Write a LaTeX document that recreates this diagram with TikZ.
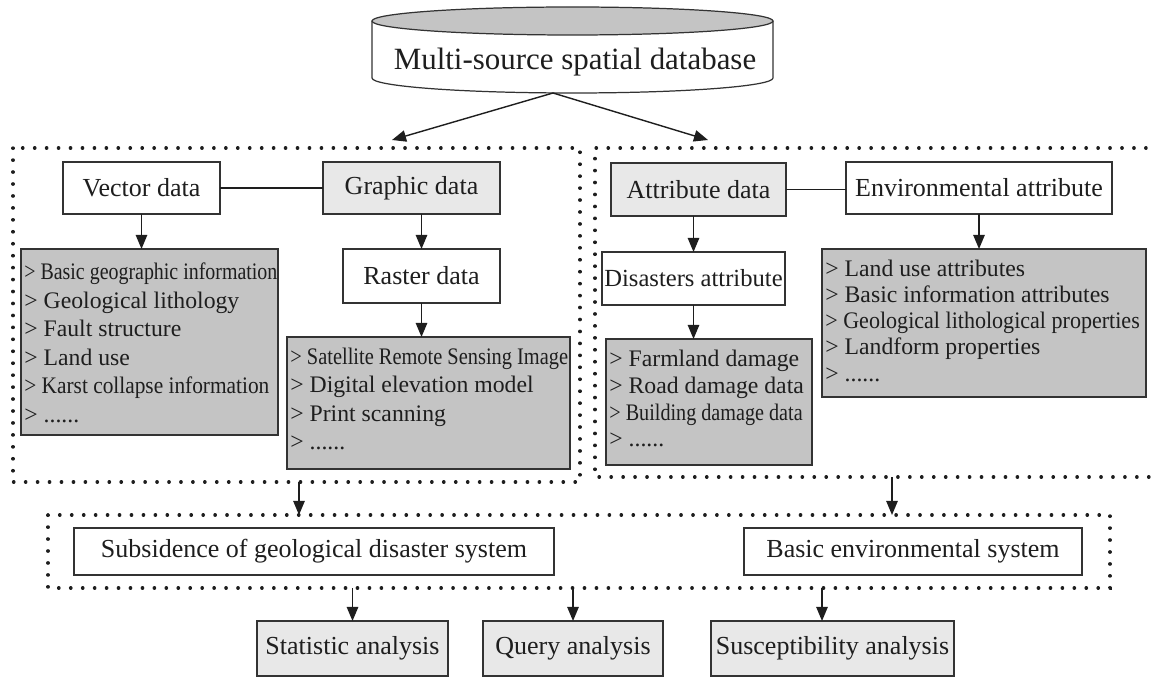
\documentclass[tikz,border=0pt]{standalone}
\usepackage{fontspec}
\usepackage{graphicx}
\setmainfont{Liberation Serif}
\usetikzlibrary{arrows.meta}
\definecolor{edge}{HTML}{333333}
\definecolor{darkfill}{HTML}{C4C4C4}
\definecolor{lightfill}{HTML}{E8E8E8}
\definecolor{ink}{HTML}{1E1E1E}
\tikzset{
 pbox/.style={draw=edge, line width=0.7pt, inner sep=0pt, outer sep=0pt, text=ink, font=\fontsize{14.8}{17}\selectfont},
 wbox/.style={pbox, fill=white},
 lbox/.style={pbox, fill=lightfill},
 dbox/.style={pbox, fill=darkfill},
 itm/.style={anchor=base west, inner sep=0pt, text=ink, font=\fontsize{13.5}{16}\selectfont},
 dots/.style={draw=ink, line width=1.9pt, line cap=round, dash pattern=on 0.2pt off 6.6pt},
 arr/.style={draw=ink, line width=0.8pt, -{Triangle[length=8pt,width=6.5pt]}},
 conn/.style={draw=ink, line width=0.8pt},
}
\newcommand{\pbx}[7]{\node[#2, minimum width={(#5-#3)*0.02cm}, minimum height={(#6-#4)*0.02cm}] (#1) at ({(#3+#5)/2},{(#4+#6)/2}) {#7};}
\newcommand{\sixdots}{......}
\begin{document}
\begin{tikzpicture}[x=0.02cm, y=-0.02cm]
\useasboundingbox (0,0) rectangle (1155,678);
% database cylinder
\draw[edge, line width=0.7pt, fill=white] (372,21) -- (372,78) arc[start angle=180, end angle=0, x radius=200.5, y radius=15] -- (773,21);
\draw[edge, line width=0.7pt, fill=darkfill] (572.5,21) ellipse [x radius=200.5, y radius=14];
\node[font=\fontsize{17.6}{20}\selectfont, text=ink, inner sep=0pt] (db) at (575,62) {Multi-source spatial database};
\coordinate (dbb) at (553,93);
\coordinate (la) at (392,140);
\coordinate (ra) at (708,140);
\draw[arr] (dbb) -- (la);
\draw[arr] (dbb) -- (ra);
% dotted groups
\draw[dots] (13,148) rectangle (580,482);
\draw[dots] (1158,148) -- (595,148) -- (595,477) -- (1158,477);
\draw[dots] (48,515) rectangle (1110,588);
% left group
\pbx{vec}{wbox}{63}{162}{220}{214}{Vector data}
\pbx{gra}{lbox}{323}{162}{500}{214}{Graphic data}
\pbx{ras}{wbox}{343}{249}{500}{303}{Raster data}
\pbx{g1}{dbox}{21}{249}{278}{435}{}
\pbx{g2}{dbox}{287}{337}{570}{469}{}
% right group
\pbx{att}{lbox}{611}{163}{786}{216}{Attribute data}
\pbx{env}{wbox}{846}{162}{1112}{214}{Environmental attribute}
\pbx{dis}{wbox}{602}{252}{785}{305}{\fontsize{14}{16}\selectfont Disasters attribute}
\pbx{g3}{dbox}{606}{339}{812}{465}{}
\pbx{g4}{dbox}{822}{249}{1146}{397}{}
% lower
\pbx{sub}{wbox}{74}{528}{554}{575}{Subsidence of geological disaster system}
\pbx{ben}{wbox}{744}{528}{1082}{575}{Basic environmental system}
\pbx{sta}{lbox}{257}{621}{448}{676}{Statistic analysis}
\pbx{que}{lbox}{483}{621}{663}{676}{Query analysis}
\pbx{sus}{lbox}{711}{621}{954}{676}{Susceptibility analysis}
% list texts
\foreach \t [count=\i] in {{\scalebox{0.84}[1]{> Basic geographic information}},{> Geological lithology},{> Fault structure},{> Land use},{\scalebox{0.9}[1]{> Karst collapse information}},{> \sixdots}}
  \node[itm] (g1t\i) at (24,{280+(\i-1)*28.5}) {\t};
\foreach \t [count=\i] in {{\scalebox{0.86}[1]{> Satellite Remote Sensing Image}},{> Digital elevation model},{> Print scanning},{> \sixdots}}
  \node[itm] (g2t\i) at (290,{365+(\i-1)*28}) {\t};
\foreach \t [count=\i] in {{> Farmland damage},{> Road damage data},{\scalebox{0.85}[1]{> Building damage data}},{> \sixdots}}
  \node[itm] (g3t\i) at (609,{367+(\i-1)*26.5}) {\t};
\foreach \t [count=\i] in {{> Land use attributes},{> Basic information attributes},{\scalebox{0.93}[1]{> Geological lithological properties}},{> Landform properties},{> \sixdots}}
  \node[itm] (g4t\i) at (825,{277+(\i-1)*26}) {\t};
% connectors
\draw[conn] (vec.east) -- (gra.west);
\draw[conn] (att.east) -- (att.east -| env.west);
\draw[arr] (vec.south) -- (vec.south |- g1.north);
\draw[arr] (ras.north |- gra.south) -- (ras.north);
\draw[arr] (ras.south) -- (ras.south |- g2.north);
\draw[arr] (dis.north |- att.south) -- (dis.north);
\draw[arr] (dis.south) -- (dis.south |- g3.north);
\draw[arr] (env.south) -- (env.south |- g4.north);
\coordinate (lgb) at (299,482);
\coordinate (lwt) at (299,515);
\coordinate (rgb) at (892,477);
\coordinate (rwt) at (892,515);
\draw[arr] (lgb) -- (lwt);
\draw[arr] (rgb) -- (rwt);
\coordinate (lowb) at (0,588);
\coordinate (susa) at (822,621);
\draw[arr] (sta.north |- lowb) -- (sta.north);
\draw[arr] (que.north |- lowb) -- (que.north);
\draw[arr] (susa |- lowb) -- (susa);
\end{tikzpicture}
\end{document}
